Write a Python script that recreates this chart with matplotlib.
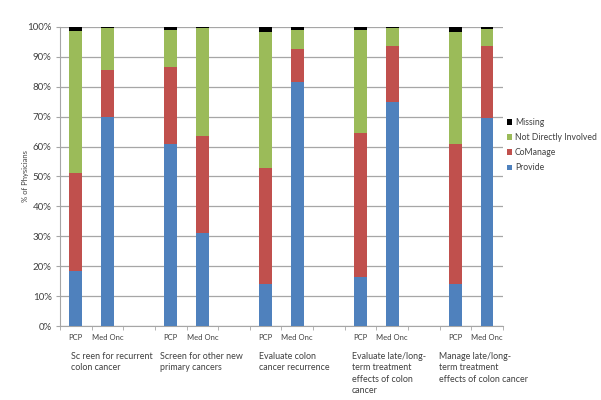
import matplotlib
matplotlib.use("Agg")
import matplotlib.pyplot as plt
import numpy as np

groups = ["Sc reen for recurrent\ncolon cancer",
          "Screen for other new\nprimary cancers",
          "Evaluate colon\ncancer recurrence",
          "Evaluate late/long-\nterm treatment\neffects of colon\ncancer",
          "Manage late/long-\nterm treatment\neffects of colon cancer"]
roles = ["PCP", "Med Onc"]

# order: for each group PCP, Med Onc
provide    = [18.3, 70.0, 61.0, 31.0, 14.0, 81.7, 16.5, 75.0, 14.0, 69.7]
comanage   = [33.0, 15.6, 25.7, 32.5, 38.7, 10.8, 47.9, 18.6, 46.9, 24.0]
not_direct = [47.2, 13.9, 12.3, 36.0, 45.7,  6.5, 34.6,  6.0, 37.5,  5.5]
missing    = [1.5,  0.5,  1.0,  0.5,  1.6,  1.0,  1.0,  0.4,  1.6,  0.8]

series = [("Provide", provide, "#4F81BD"),
          ("CoManage", comanage, "#C0504D"),
          ("Not Directly Involved", not_direct, "#9BBB59"),
          ("Missing", missing, "#000000")]

plt.rcParams['font.family'] = ['Lato', 'DejaVu Sans']
fig = plt.figure(figsize=(6.01, 4.0), dpi=100)
ax = fig.add_axes([0.0998, 0.185, 0.737, 0.7475])

xpos = []
for g in range(len(groups)):
    xpos += [g * 3, g * 3 + 1]
xpos = np.array(xpos, dtype=float)

bottom = np.zeros(len(xpos))
handles = []
for name, vals, col in series:
    b = ax.bar(xpos, vals, width=0.4, bottom=bottom, color=col, label=name, zorder=3)
    handles.append(b)
    bottom += np.array(vals)

ax.set_xlim(-0.5, 13.5)
ax.set_ylim(0, 100)
ax.set_yticks(np.arange(0, 101, 10))
ax.set_yticklabels([f"{v}%" for v in range(0, 101, 10)], fontsize=7, color="#404040")
ax.yaxis.grid(True, color="#A6A6A6", linewidth=0.9, zorder=0)
ax.set_axisbelow(True)
ax.set_xticks(xpos)
ax.set_xticklabels([roles[i % 2] for i in range(len(xpos))], fontsize=5.5, color="#404040")
ax.tick_params(axis='x', length=0, pad=6)
ax.set_xticks(np.arange(-0.5, 13.6, 1), minor=True)
ax.tick_params(axis='x', which='minor', length=3, color="#A6A6A6")
ax.tick_params(axis='y', length=3, color="#A6A6A6", pad=3)
for s in ["top", "right"]:
    ax.spines[s].set_visible(False)
for s in ["left", "bottom"]:
    ax.spines[s].set_color("#A6A6A6")
ax.set_ylabel("% of Physicians", fontsize=5.5, color="#404040")
ax.yaxis.set_label_coords(-0.07, 0.5)

offsets = [-0.16, -0.34, -0.21, -0.27, -0.52]
for g, lab in enumerate(groups):
    ax.text(g * 3 + offsets[g], -0.088, lab, transform=ax.get_xaxis_transform(),
            ha='left', va='top', fontsize=6.4, color="#404040", linespacing=1.3)

leg = ax.legend(handles=handles[::-1], loc='center left', bbox_to_anchor=(1.0, 0.605),
                frameon=False, fontsize=6.2, handlelength=0.6, handleheight=0.6,
                handletextpad=0.3, labelspacing=0.72, borderaxespad=0.1)
for t in leg.get_texts():
    t.set_color("#404040")

fig.savefig("out.png", dpi=100)
